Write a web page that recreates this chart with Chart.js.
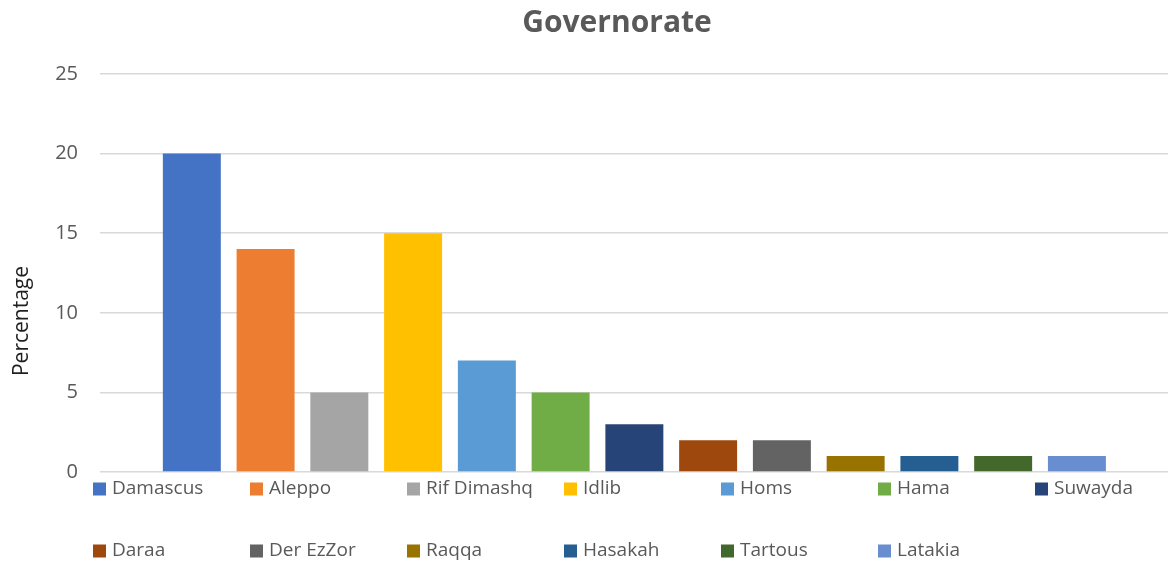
<!DOCTYPE html>
<html>
<head>
<meta charset="utf-8">
<script src="https://cdn.jsdelivr.net/npm/chart.js@4.4.1/dist/chart.umd.min.js"></script>
<style>
  html, body { margin: 0; padding: 0; background: #ffffff; }
  #wrap { width: 1168px; height: 562px; position: relative; }
</style>
</head>
<body>
<div id="wrap"><canvas id="chart"></canvas></div>
<script>
// Share of respondents by governorate (%)
const governorates = ['Damascus', 'Aleppo', 'Rif Dimashq', 'Idlib', 'Homs', 'Hama', 'Suwayda',
                      'Daraa', 'Der EzZor', 'Raqqa', 'Hasakah', 'Tartous', 'Latakia'];
const percentages = [20, 14, 5, 15, 7, 5, 3, 2, 2, 1, 1, 1, 1];
const barColors = ['#4472C4', '#ED7D31', '#A5A5A5', '#FFC000', '#5B9BD5', '#70AD47', '#264478',
                   '#9E480E', '#636363', '#997300', '#255E91', '#43682B', '#698ED0'];
const yTicks = [0, 5, 10, 15, 20, 25];
const chartTitle = 'Governorate';
const yAxisTitle = 'Percentage';

const FONT = "'Open Sans', 'DejaVu Sans', sans-serif";
const TEXT_GREY = '#595959';

// Title, rotated axis caption and a grid-style legend below the plot
const decorations = {
  id: 'decorations',
  afterDraw(chart) {
    const ctx = chart.ctx;
    ctx.save();

    ctx.fillStyle = TEXT_GREY;
    ctx.font = "bold 30px " + FONT;
    ctx.textAlign = 'center';
    ctx.textBaseline = 'middle';
    ctx.fillText(chartTitle, 617, 23);

    ctx.save();
    ctx.translate(22, 321);
    ctx.rotate(-Math.PI / 2);
    ctx.fillStyle = '#1f1f1f';
    ctx.font = "21px " + FONT;
    ctx.fillText(yAxisTitle, 0, 0);
    ctx.restore();

    const perRow = 7, colStart = 93, colWidth = 157, rowY = [489, 551], box = 13;
    ctx.font = "19px " + FONT;
    ctx.textAlign = 'left';
    governorates.forEach((name, i) => {
      const col = i % perRow, row = Math.floor(i / perRow);
      const x = colStart + col * colWidth, y = rowY[row];
      ctx.fillStyle = barColors[i];
      ctx.fillRect(x, y - box / 2, box, box);
      ctx.fillStyle = TEXT_GREY;
      ctx.fillText(name, x + box + 6, y);
    });
    ctx.restore();
  }
};

new Chart(document.getElementById('chart'), {
  type: 'bar',
  data: {
    datasets: [{
      label: yAxisTitle,
      data: percentages.map((v, i) => ({ x: i, y: v })),
      backgroundColor: barColors,
      borderWidth: 0,
      barPercentage: 0.786,
      categoryPercentage: 1
    }]
  },
  options: {
    responsive: true,
    maintainAspectRatio: false,
    animation: false,
    layout: { padding: { top: 74, bottom: 90, left: 0, right: 0 } },
    plugins: {
      legend: { display: false },
      title: { display: false },
      tooltip: { enabled: false }
    },
    scales: {
      x: {
        type: 'linear',
        display: false,
        offset: false,
        min: -1.245,
        max: governorates.length - 1 + 1.235
      },
      y: {
        min: yTicks[0],
        max: yTicks[yTicks.length - 1],
        afterFit(scale) { scale.width = 100; },
        afterBuildTicks(scale) { scale.ticks = yTicks.map(v => ({ value: v })); },
        border: { display: false },
        grid: { color: '#D9D9D9', lineWidth: 1.5, drawTicks: false },
        ticks: {
          padding: 22,
          color: TEXT_GREY,
          font: { family: FONT, size: 20 }
        }
      }
    }
  },
  plugins: [decorations]
});
</script>
</body>
</html>
